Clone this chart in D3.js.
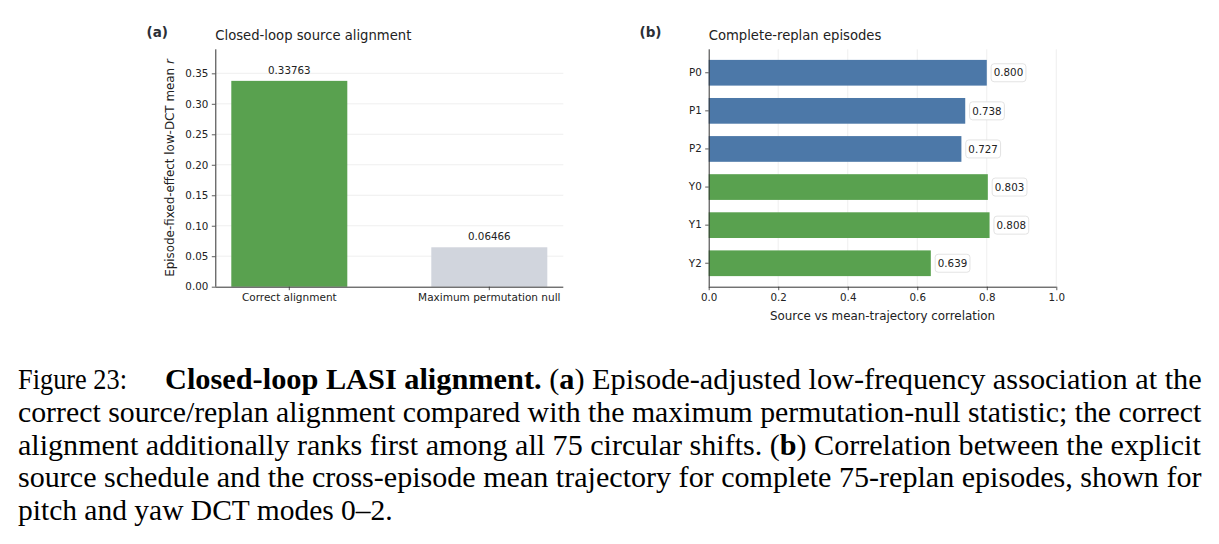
<!DOCTYPE html>
<html><head><meta charset="utf-8">
<script src="https://cdn.jsdelivr.net/npm/d3@7/dist/d3.min.js"></script>
<style>
html,body{margin:0;padding:0;background:#fff;}
svg text.dv{font-family:"DejaVu Sans",sans-serif;}
svg text.cap{font-family:"Liberation Serif","Times New Roman",serif;}
</style></head>
<body><svg id="c" width="1219" height="544"></svg>
<script>
// ---- data ----
const alignCategories = ["Correct alignment", "Maximum permutation null"];
const alignValues = [0.33763, 0.06466];
const alignLabels = ["0.33763", "0.06466"];
const alignYTicks = [0, 0.05, 0.10, 0.15, 0.20, 0.25, 0.30, 0.35];

const modeCategories = ["P0", "P1", "P2", "Y0", "Y1", "Y2"];
const modeValues = [0.800, 0.738, 0.727, 0.803, 0.808, 0.639];
const modeGroups = ["pitch", "pitch", "pitch", "yaw", "yaw", "yaw"];
const modeXTicks = [0, 0.2, 0.4, 0.6, 0.8, 1.0];

const captionLines = [
  [{t:"Closed-loop LASI alignment.", b:true},{t:" (",b:false},{t:"a",b:true},{t:") Episode-adjusted low-frequency association at the",b:false}],
  [{t:"correct source/replan alignment compared with the maximum permutation-null statistic; the correct",b:false}],
  [{t:"alignment additionally ranks first among all 75 circular shifts. (",b:false},{t:"b",b:true},{t:") Correlation between the explicit",b:false}],
  [{t:"source schedule and the cross-episode mean trajectory for complete 75-replan episodes, shown for",b:false}],
  [{t:"pitch and yaw DCT modes 0\u20132.",b:false}]
];

const svg = d3.select("#c");
svg.append("rect").attr("width",1219).attr("height",544).attr("fill","#fff");
const FS = 10.3, FSC = 10.5, FSL = 11.9, FST = 13.2, TXT = "#222", SPINE = "#333", GRID = "#ebebeb";
const GREEN = "#59a14f", BLUE = "#4c78a8", GREY = "#d1d5dd";

function styleAxis(a, fs) {
  a.select(".domain").attr("stroke", SPINE).attr("stroke-width", 1);
  a.selectAll(".tick line").attr("stroke", SPINE).attr("stroke-width", 0.8);
  a.selectAll(".tick text").attr("class","dv").attr("font-size", fs).attr("fill", TXT);
}

// ---- panel (a) ----
{
  const L = 215.3, R = 563.3, T = 49.3, B = 286.7;
  const x = d3.scaleBand().domain(alignCategories).range([L, R]).paddingInner(0.42).paddingOuter(0.08);
  const y = d3.scaleLinear().domain([0, 0.3894]).range([B, T]);
  const g = svg.append("g");
  g.selectAll("line.grid").data(alignYTicks.filter(d=>d>0)).join("line")
    .attr("x1", L).attr("x2", R).attr("y1", d=>y(d)).attr("y2", d=>y(d))
    .attr("stroke", GRID).attr("stroke-width", 0.8);
  g.selectAll("rect.bar").data(alignValues).join("rect")
    .attr("x", (d,i)=>x(alignCategories[i])).attr("width", x.bandwidth())
    .attr("y", d=>y(d)).attr("height", d=>B - y(d))
    .attr("fill", (d,i)=> i===0 ? GREEN : GREY);
  g.selectAll("text.val").data(alignValues).join("text").attr("class","dv")
    .attr("x", (d,i)=>x(alignCategories[i]) + x.bandwidth()/2).attr("y", d=>y(d) - 6.8)
    .attr("text-anchor","middle").attr("font-size", FS).attr("fill", TXT)
    .text((d,i)=>alignLabels[i]);
  const ya = g.append("g").attr("transform", `translate(${L},0)`)
    .call(d3.axisLeft(y).tickValues(alignYTicks).tickFormat(d3.format(".2f")).tickSize(3.5).tickPadding(3.5));
  const xa = g.append("g").attr("transform", `translate(0,${B})`)
    .call(d3.axisBottom(x).tickSize(3.5).tickPadding(3.5));
  styleAxis(ya, FS); styleAxis(xa, FSC);
  ya.select(".domain").attr("d", `M0.5,${T}V${B}`);
  xa.select(".domain").attr("d", `M${L},0.5H${R}`);
  const yl = g.append("text").attr("class","dv").attr("transform", `translate(173.8,${(T+B)/2}) rotate(-90)`)
    .attr("text-anchor","middle").attr("font-size", FSL).attr("fill", TXT);
  yl.append("tspan").text("Episode-fixed-effect low-DCT mean ");
  yl.append("tspan").attr("font-style","italic").text("r");
  g.append("text").attr("class","dv").attr("x", L).attr("y", 40.3).attr("font-size", FST).attr("fill", TXT)
    .text("Closed-loop source alignment");
  g.append("text").attr("class","dv").attr("x", 146.5).attr("y", 37).attr("font-size", 13.5).attr("font-weight","bold").attr("fill", "#2b2f36")
    .text("(a)");
}

// ---- panel (b) ----
{
  const L = 708.7, R = 1056.3, T = 49.3, B = 286.7;
  const x = d3.scaleLinear().domain([0, 1]).range([L, R]);
  const y = d3.scaleBand().domain(modeCategories).range([T, B]).paddingInner(0.325).paddingOuter(0.278);
  const g = svg.append("g");
  g.selectAll("line.grid").data(modeXTicks.filter(d=>d>0)).join("line")
    .attr("x1", d=>x(d)).attr("x2", d=>x(d)).attr("y1", T).attr("y2", B)
    .attr("stroke", GRID).attr("stroke-width", 0.8);
  g.selectAll("rect.bar").data(modeValues).join("rect")
    .attr("y", (d,i)=>y(modeCategories[i])).attr("height", y.bandwidth())
    .attr("x", L).attr("width", d=>x(d) - L)
    .attr("fill", (d,i)=> modeGroups[i]==="pitch" ? BLUE : GREEN);
  const lab = g.selectAll("g.lab").data(modeValues).join("g")
    .attr("transform", (d,i)=>`translate(${x(d + 0.02)},${y(modeCategories[i]) + y.bandwidth()/2})`);
  lab.append("rect").attr("x", -2.6).attr("y", -9).attr("width", 34.8).attr("height", 18)
    .attr("rx", 3).attr("fill", "#fff").attr("stroke", "#dcdcdc").attr("stroke-width", 0.8);
  lab.append("text").attr("class","dv").attr("x", 0).attr("y", 3.7).attr("font-size", FS).attr("fill", TXT)
    .text(d=>d3.format(".3f")(d));
  const xa = g.append("g").attr("transform", `translate(0,${B})`)
    .call(d3.axisBottom(x).tickValues(modeXTicks).tickFormat(d3.format(".1f")).tickSize(3.5).tickPadding(3.5));
  const ya = g.append("g").attr("transform", `translate(${L},0)`)
    .call(d3.axisLeft(y).tickSize(3.5).tickPadding(3.5));
  styleAxis(ya, FS); styleAxis(xa, FS);
  ya.select(".domain").attr("d", `M0.5,${T}V${B}`);
  xa.select(".domain").attr("d", `M${L},0.5H${R}`);
  g.append("text").attr("class","dv").attr("x", (L+R)/2).attr("y", 320).attr("text-anchor","middle")
    .attr("font-size", FSL).attr("fill", TXT).text("Source vs mean-trajectory correlation");
  g.append("text").attr("class","dv").attr("x", L).attr("y", 40.3).attr("font-size", FST).attr("fill", TXT)
    .text("Complete-replan episodes");
  g.append("text").attr("class","dv").attr("x", 639.5).attr("y", 37).attr("font-size", 13.5).attr("font-weight","bold").attr("fill", "#2b2f36")
    .text("(b)");
}

// ---- caption ----
{
  const CF = 29.5;
  const baselines = [389, 421.75, 454.5, 487.25, 520];
  const starts = [165, 18, 18, 18, 18];
  const ends = [1201.7, 1201.2, 1200.8, 1201.5, 392.7];
  const cap = svg.append("g").attr("fill", "#000");
  cap.append("text").attr("class","cap").attr("x", 18).attr("y", baselines[0]).attr("font-size", CF)
    .attr("textLength", 127 - 18).attr("lengthAdjust", "spacingAndGlyphs").text("Figure 23:");
  captionLines.forEach((parts, i) => {
    const t = cap.append("text").attr("class","cap").attr("x", starts[i]).attr("y", baselines[i]).attr("font-size", CF)
      .attr("textLength", ends[i] - starts[i]).attr("lengthAdjust", "spacingAndGlyphs");
    parts.forEach(p => t.append("tspan").attr("font-weight", p.b ? "bold" : "normal").text(p.t));
  });
}
</script></body></html>
